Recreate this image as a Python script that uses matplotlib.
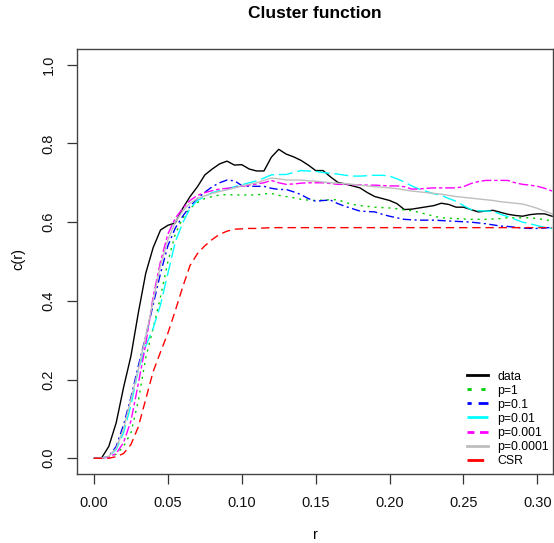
import numpy as np
import matplotlib
matplotlib.use("Agg")
import matplotlib.pyplot as plt

plt.rcParams['font.family'] = ['Liberation Sans', 'DejaVu Sans']

# distance grid r (0 to 0.31 by 0.005)
r = np.round(np.arange(0, 0.3101, 0.005), 3)

data = [0, 0, 0.03, 0.09, 0.18, 0.26, 0.37, 0.47, 0.535, 0.58,
        0.592, 0.598, 0.635, 0.665, 0.69, 0.72, 0.735, 0.748, 0.755, 0.745,
        0.746, 0.735, 0.73, 0.73, 0.765, 0.785, 0.773, 0.766, 0.757, 0.745,
        0.731, 0.731, 0.715, 0.701, 0.697, 0.692, 0.687, 0.675, 0.665, 0.66,
        0.655, 0.647, 0.632, 0.633, 0.636, 0.639, 0.642, 0.648, 0.645, 0.638,
        0.638, 0.632, 0.626, 0.628, 0.63, 0.625, 0.62, 0.617, 0.615, 0.619,
        0.621, 0.621, 0.615]

p_1 = [0, 0, 0.003, 0.01, 0.03, 0.065, 0.146, 0.255, 0.33, 0.41,
       0.50, 0.57, 0.61, 0.635, 0.65, 0.66, 0.665, 0.669, 0.67, 0.669,
       0.669, 0.669, 0.669, 0.672, 0.673, 0.668, 0.665, 0.662, 0.658, 0.656,
       0.655, 0.656, 0.657, 0.657, 0.65, 0.645, 0.642, 0.64, 0.638, 0.637,
       0.636, 0.634, 0.631, 0.629, 0.625, 0.62, 0.615, 0.611, 0.61, 0.609,
       0.608, 0.607, 0.607, 0.607, 0.608, 0.609, 0.611, 0.611, 0.611, 0.611,
       0.609, 0.606, 0.603]

p_01 = [0, 0, 0.005, 0.03, 0.085, 0.155, 0.235, 0.31, 0.39, 0.47,
        0.54, 0.585, 0.615, 0.64, 0.66, 0.676, 0.69, 0.70, 0.707, 0.705,
        0.693, 0.691, 0.691, 0.691, 0.686, 0.683, 0.683, 0.677, 0.67, 0.66,
        0.653, 0.655, 0.656, 0.647, 0.64, 0.634, 0.628, 0.627, 0.626, 0.62,
        0.615, 0.611, 0.607, 0.606, 0.605, 0.605, 0.605, 0.604, 0.603, 0.602,
        0.601, 0.6, 0.598, 0.596, 0.593, 0.59, 0.589, 0.587, 0.585, 0.584,
        0.584, 0.585, 0.587]

p_001 = [0, 0, 0.005, 0.022, 0.065, 0.135, 0.225, 0.285, 0.33, 0.39,
         0.47, 0.55, 0.598, 0.635, 0.655, 0.665, 0.675, 0.68, 0.685, 0.69,
         0.695, 0.70, 0.705, 0.712, 0.72, 0.721, 0.721, 0.726, 0.731, 0.73,
         0.729, 0.726, 0.724, 0.722, 0.719, 0.717, 0.717, 0.718, 0.719, 0.719,
         0.717, 0.71, 0.702, 0.692, 0.684, 0.678, 0.672, 0.668, 0.66, 0.653,
         0.642, 0.632, 0.629, 0.628, 0.628, 0.62, 0.614, 0.607, 0.6, 0.596,
         0.591, 0.587, 0.584]

p_0001 = [0, 0, 0.003, 0.012, 0.04, 0.095, 0.19, 0.29, 0.41, 0.50,
          0.57, 0.61, 0.635, 0.655, 0.668, 0.675, 0.68, 0.684, 0.686, 0.688,
          0.691, 0.694, 0.697, 0.70, 0.706, 0.70, 0.696, 0.697, 0.699, 0.70,
          0.70, 0.70, 0.698, 0.696, 0.696, 0.695, 0.695, 0.694, 0.694, 0.693,
          0.692, 0.692, 0.69, 0.684, 0.684, 0.686, 0.687, 0.687, 0.687, 0.687,
          0.69, 0.698, 0.703, 0.706, 0.706, 0.706, 0.706, 0.70, 0.696, 0.694,
          0.691, 0.686, 0.679]

p_00001 = [0, 0, 0.005, 0.025, 0.075, 0.15, 0.225, 0.31, 0.40, 0.49,
           0.555, 0.60, 0.628, 0.648, 0.66, 0.667, 0.673, 0.678, 0.682, 0.687,
           0.692, 0.696, 0.70, 0.706, 0.712, 0.71, 0.707, 0.707, 0.707, 0.705,
           0.704, 0.702, 0.70, 0.699, 0.698, 0.696, 0.694, 0.692, 0.69, 0.689,
           0.687, 0.685, 0.682, 0.679, 0.677, 0.675, 0.673, 0.671, 0.668, 0.665,
           0.663, 0.661, 0.659, 0.657, 0.655, 0.652, 0.65, 0.648, 0.646, 0.641,
           0.635, 0.628, 0.621]

csr = [0, 0, 0, 0.004, 0.012, 0.035, 0.08, 0.15, 0.22, 0.27,
       0.318, 0.375, 0.435, 0.49, 0.52, 0.54, 0.556, 0.569, 0.577, 0.582,
       0.583, 0.584, 0.584, 0.585, 0.586, 0.586, 0.586, 0.586, 0.586, 0.586,
       0.586, 0.586, 0.586, 0.586, 0.586, 0.586, 0.586, 0.586, 0.586, 0.586,
       0.586, 0.586, 0.586, 0.586, 0.586, 0.586, 0.586, 0.586, 0.586, 0.586,
       0.586, 0.586, 0.586, 0.586, 0.586, 0.586, 0.586, 0.586, 0.586, 0.586,
       0.586, 0.586, 0.586]

labels = ["data", "p=1", "p=0.1", "p=0.01", "p=0.001", "p=0.0001", "CSR"]
series = [data, p_1, p_01, p_001, p_0001, p_00001, csr]
colors = ["black", "#00CD00", "blue", "cyan", "magenta", "#BEBEBE", "red"]
styles = ["-", (0, (1.5, 3.5)), (0, (1.5, 2.5, 6, 2.5)), (0, (10, 3.5)),
          (0, (2.5, 2, 7, 2)), "-", (0, (6, 3.5))]

fig = plt.figure(figsize=(5.54, 5.43), dpi=100)
ax = fig.add_axes([0.1385, 0.1271, 0.8597, 0.7827])

for y, c, ls in zip(series, colors, styles):
    ax.plot(r, y, color=c, linestyle=ls, linewidth=1.0)

ax.set_xlim(-0.0117, 0.3106)
ax.set_ylim(-0.04, 1.04)
ax.set_xticks([0.0, 0.05, 0.10, 0.15, 0.20, 0.25, 0.30])
ax.set_xticklabels(["0.00", "0.05", "0.10", "0.15", "0.20", "0.25", "0.30"])
ax.set_yticks([0.0, 0.2, 0.4, 0.6, 0.8, 1.0])
ax.set_yticklabels(["0.0", "0.2", "0.4", "0.6", "0.8", "1.0"], rotation=90, va="center")
ax.tick_params(direction="out", length=7.2, width=0.9, color="#333333",
               labelsize=10.5, labelcolor="#111111")
ax.tick_params(axis="x", pad=9)
ax.tick_params(axis="y", pad=8)
for s in ax.spines.values():
    s.set_color("#444444")
    s.set_linewidth(1.0)

# legend with thicker sample lines, no frame
handles = [plt.Line2D([], [], color=c, linestyle=ls, linewidth=2)
           for c, ls in zip(colors, styles)]
ax.legend(handles, labels, loc="lower right", bbox_to_anchor=(549 / 554, 1 - 467 / 543),
          bbox_transform=fig.transFigure, frameon=False, fontsize=8.8,
          handlelength=1.7, handletextpad=0.8, labelspacing=0.17,
          borderpad=0, borderaxespad=0)

fig.text(315 / 554, 1 - 14 / 543, "Cluster function", ha="center", va="center",
         fontsize=12.5, fontweight="bold")
fig.text(315 / 554, 1 - 535 / 543, "r", ha="center", va="center", fontsize=10.5)
fig.text(18 / 554, 1 - 259 / 543, "c(r)", ha="center", va="center", fontsize=10.5,
         rotation=90)

fig.savefig("out.png", dpi=100)
